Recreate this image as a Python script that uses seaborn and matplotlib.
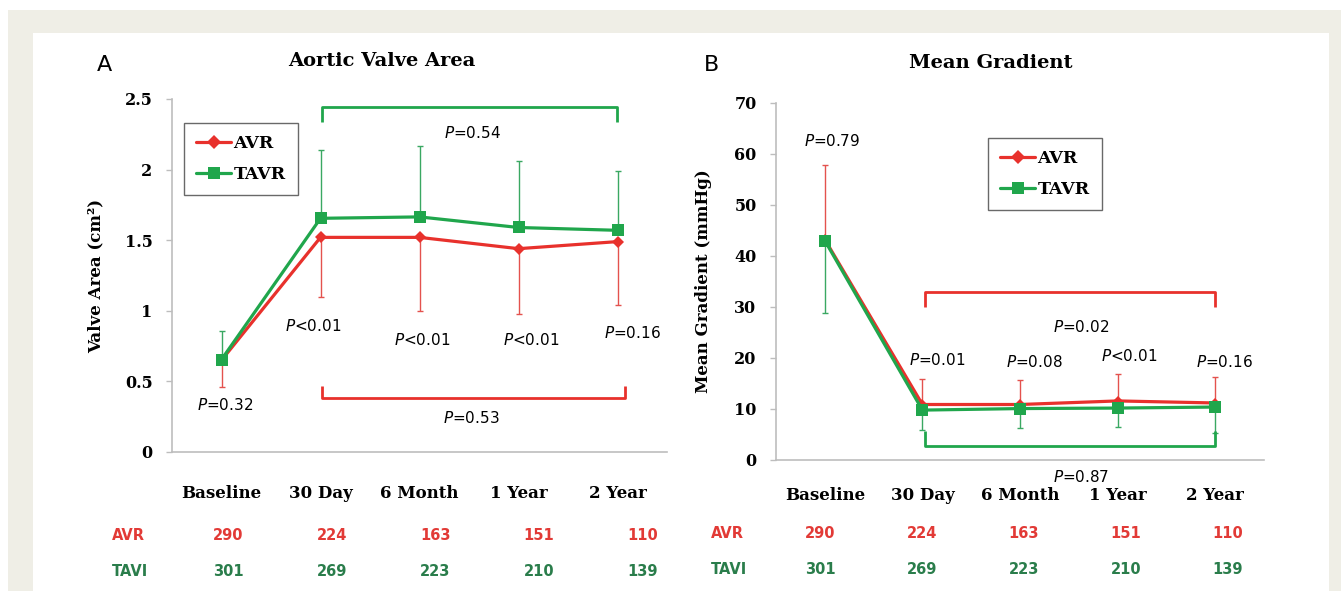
import matplotlib
matplotlib.use("Agg")
import matplotlib.pyplot as plt
import matplotlib.transforms as mtransforms
from matplotlib.lines import Line2D
from matplotlib.patches import Rectangle
import numpy as np
import pandas as pd
import seaborn as sns

# ---------------- data ----------------
categories = ["Baseline", "30 Day", "6 Month", "1 Year", "2 Year"]
groups = ["AVR", "TAVR"]

ava_avr = [0.65, 1.52, 1.52, 1.44, 1.49]
ava_avr_lower = [0.46, 1.10, 1.00, 0.98, 1.04]
ava_tavr = [0.655, 1.655, 1.665, 1.59, 1.57]
ava_tavr_upper = [0.855, 2.14, 2.17, 2.06, 1.99]

mg_avr = [43.2, 10.8, 10.8, 11.5, 11.1]
mg_avr_upper = [57.8, 15.8, 15.6, 16.7, 16.2]
mg_tavr = [43.0, 9.7, 10.0, 10.1, 10.3]
mg_tavr_lower = [28.8, 5.7, 6.1, 6.3, 5.3]

ava_yticks = [0, 0.5, 1, 1.5, 2, 2.5]
ava_yticklabels = ["0", "0.5", "1", "1.5", "2", "2.5"]
mg_yticks = [0, 10, 20, 30, 40, 50, 60, 70]
mg_yticklabels = ["0", "10", "20", "30", "40", "50", "60", "70"]

ava_p_point = ["=0.32", "<0.01", "<0.01", "<0.01", "=0.16"]
ava_p_tavr = "=0.54"
ava_p_avr = "=0.53"
mg_p_point = ["=0.79", "=0.01", "=0.08", "<0.01", "=0.16"]
mg_p_avr = "=0.02"
mg_p_tavr = "=0.87"

n_avr = [290, 224, 163, 151, 110]
n_tavi = [301, 269, 223, 210, 139]
row_labels = ["AVR", "TAVI"]

# ---------------- style ----------------
RED = "#e8312c"
GREEN = "#20a64c"
RED_ERR = "#e4524e"
GREEN_ERR = "#3aa862"
RED_TXT = "#e23a36"
GREEN_TXT = "#2a7d4b"
SPINE = "#bdbdbd"

sns.set_style("white")
plt.rcParams["font.family"] = ["DejaVu Sans"]
plt.rcParams["mathtext.fontset"] = "dejavusans"
plt.rcParams["text.color"] = "black"
plt.rcParams["xtick.color"] = "black"
plt.rcParams["ytick.color"] = "black"
plt.rcParams["axes.labelcolor"] = "black"

W, H = 1341, 591
fig = plt.figure(figsize=(W / 100, H / 100), dpi=100)
fig.patch.set_facecolor("white")


def fx(px):
    return px / W


def fy(py):
    return 1 - py / H


fig.patches.append(Rectangle((fx(8), 0), 1, 1 - 10 / H, transform=fig.transFigure,
                             facecolor="#efeee6", edgecolor="none", zorder=-10))
fig.patches.append(Rectangle((fx(33), 0), (1329 - 33) / W, 1 - 33 / H, transform=fig.transFigure,
                             facecolor="white", edgecolor="none", zorder=-9))

SERIF = "DejaVu Serif"


def panel(ax_rect, avr, tavr, avr_err, tavr_err, avr_up, ylim, yticks, yticklabels,
          ylabel, title, title_xy, letter, letter_xy, xpad, legend_xy):
    ax = fig.add_axes(ax_rect)
    ax.set_facecolor("none")
    x = np.arange(len(categories))
    df = pd.DataFrame({
        "x": np.concatenate([x, x]),
        "y": avr + tavr,
        "group": [groups[0]] * len(x) + [groups[1]] * len(x),
    })
    avr_a = np.array(avr)
    tavr_a = np.array(tavr)
    ea = np.array(avr_err)
    et = np.array(tavr_err)
    if avr_up:
        yerr_avr = [np.zeros_like(avr_a), ea - avr_a]
        yerr_tavr = [tavr_a - et, np.zeros_like(tavr_a)]
    else:
        yerr_avr = [avr_a - ea, np.zeros_like(avr_a)]
        yerr_tavr = [np.zeros_like(tavr_a), et - tavr_a]
    ax.errorbar(x, avr_a, yerr=yerr_avr, fmt="none", ecolor=RED_ERR, elinewidth=1.0,
                capsize=2.5, capthick=1.0, zorder=1.5)
    ax.errorbar(x, tavr_a, yerr=yerr_tavr, fmt="none", ecolor=GREEN_ERR, elinewidth=1.0,
                capsize=2.5, capthick=1.0, zorder=1.6)

    sns.lineplot(data=df, x="x", y="y", hue="group", style="group",
                 markers={"AVR": "D", "TAVR": "s"}, dashes=False,
                 palette={"AVR": RED, "TAVR": GREEN}, linewidth=2.3,
                 markeredgewidth=0, legend=False, ax=ax, zorder=3)
    for ln in ax.lines:
        c = matplotlib.colors.to_hex(ln.get_color())
        if c.lower() == RED.lower():
            ln.set_markersize(6.5 if not avr_up else 5.5)
        elif c.lower() == GREEN.lower():
            ln.set_markersize(8.5)

    ax.set_xlim(-0.5, len(categories) - 0.5)
    ax.set_ylim(*ylim)
    ax.set_xticks(x)
    ax.set_xticklabels(categories, fontfamily=SERIF, fontweight="bold", fontsize=12)
    ax.set_xticks(np.arange(-0.5, len(categories)), minor=True)
    ax.tick_params(axis="x", which="major", length=0, pad=xpad)
    ax.tick_params(axis="x", which="minor", length=5, width=1, color=SPINE, direction="out")
    ax.set_yticks(yticks)
    ax.set_yticklabels(yticklabels, fontfamily=SERIF, fontweight="bold", fontsize=11.5)
    ax.tick_params(axis="y", length=4, width=1, color=SPINE, labelcolor="black",
                   direction="out", pad=10, left=True)
    ax.tick_params(axis="x", labelcolor="black")
    ax.set_xlabel("")
    ax.set_ylabel(ylabel, fontfamily=SERIF, fontweight="bold", fontsize=12, color="black")
    for s in ["top", "right"]:
        ax.spines[s].set_visible(False)
    for s in ["left", "bottom"]:
        ax.spines[s].set_color(SPINE)
        ax.spines[s].set_linewidth(1.2)

    fig.text(fx(title_xy[0]), fy(title_xy[1]), title, fontfamily=SERIF, fontweight="bold",
             fontsize=14, ha="center", va="center", color="black")
    fig.text(fx(letter_xy[0]), fy(letter_xy[1]), letter, fontsize=16, ha="center",
             va="center", color="black")

    handles = [
        Line2D([], [], color=RED, lw=2.3, marker="D", markersize=7, markeredgewidth=0),
        Line2D([], [], color=GREEN, lw=2.3, marker="s", markersize=9, markeredgewidth=0),
    ]
    leg = ax.legend(handles, [groups[0], groups[1]], loc="upper left",
                    bbox_to_anchor=(fx(legend_xy[0]), fy(legend_xy[1])),
                    bbox_transform=fig.transFigure, borderaxespad=0, frameon=True,
                    fancybox=False, edgecolor="#444444", handlelength=2.0,
                    handletextpad=0.15, labelspacing=0.8, borderpad=0.7,
                    prop={"family": SERIF, "weight": "bold", "size": 12.5})
    leg.get_frame().set_linewidth(1.0)
    for t in leg.get_texts():
        t.set_color("black")

    tr = mtransforms.blended_transform_factory(ax.transData, fig.transFigure)
    return ax, tr


def bracket(ax, x0, x1, y_leg, y_bar, color):
    ax.plot([x0, x0, x1, x1], [y_leg, y_bar, y_bar, y_leg], color=color, lw=2.0,
            solid_joinstyle="round", solid_capstyle="butt", zorder=2, clip_on=False)


def ptext(ax, x, y, s):
    ax.text(x, y, r"$P$" + s, fontsize=11, ha="center", va="center", clip_on=False,
            color="black")


def table(ax, tr, offsets, y_rows, x_label):
    for i in range(len(categories)):
        xo = i + offsets[0] + offsets[1] * i
        ax.text(xo, fy(y_rows[0]), str(n_avr[i]), transform=tr, color=RED_TXT, fontsize=10.5,
                fontweight="bold", ha="center", va="center", clip_on=False)
        ax.text(xo, fy(y_rows[1]), str(n_tavi[i]), transform=tr, color=GREEN_TXT, fontsize=10.5,
                fontweight="bold", ha="center", va="center", clip_on=False)
    fig.text(fx(x_label), fy(y_rows[0]), row_labels[0], color=RED_TXT, fontsize=10.5,
             fontweight="bold", ha="left", va="center")
    fig.text(fx(x_label), fy(y_rows[1]), row_labels[1], color=GREEN_TXT, fontsize=10.5,
             fontweight="bold", ha="left", va="center")


# ---------------- panel A ----------------
axA, trA = panel([fx(172), fy(452), (667 - 172) / W, (452 - 99) / H],
                 ava_avr, ava_tavr, ava_avr_lower, ava_tavr_upper, False,
                 (0, 2.5), ava_yticks, ava_yticklabels, "Valve Area (cm²)",
                 "Aortic Valve Area", (382, 61), "A", (104, 65), 24, (184, 123))
axA.yaxis.set_label_coords((104 - 172) / 495, 0.5)
bracket(axA, 1.02, 3.99, 2.34, 2.44, GREEN)
bracket(axA, 1.02, 4.08, 0.47, 0.38, RED)
ptext(axA, 2.54, 2.26, ava_p_tavr)
ptext(axA, 2.52, 0.24, ava_p_avr)
for xi, yi, s in zip([0.04, 0.93, 2.03, 3.13, 4.15], [0.33, 0.89, 0.79, 0.79, 0.84], ava_p_point):
    ptext(axA, xi, yi, s)
table(axA, trA, (0.07, 0.045), (535, 572), 112)

# ---------------- panel B ----------------
axB, trB = panel([fx(776), fy(459.5), (1264 - 776) / W, (459.5 - 103) / H],
                 mg_avr, mg_tavr, mg_avr_upper, mg_tavr_lower, True,
                 (0, 70), mg_yticks, mg_yticklabels, "Mean Gradient (mmHg)",
                 "Mean Gradient", (991, 63), "B", (711, 65), 20, (988, 138))
axB.yaxis.set_label_coords((712 - 776) / 488, 0.5)
bracket(axB, 1.03, 4.0, 30.0, 32.8, RED)
bracket(axB, 1.03, 4.0, 5.5, 2.7, GREEN)
ptext(axB, 2.63, 26.0, mg_p_avr)
ptext(axB, 2.63, -3.5, mg_p_tavr)
for xi, yi, s in zip([0.07, 1.15, 2.15, 3.12, 4.1], [62.6, 19.5, 19.2, 20.3, 19.2], mg_p_point):
    ptext(axB, xi, yi, s)
table(axB, trB, (-0.05, 0.045), (533, 570), 711)

fig.savefig("out.png", dpi=100, facecolor=fig.get_facecolor())
